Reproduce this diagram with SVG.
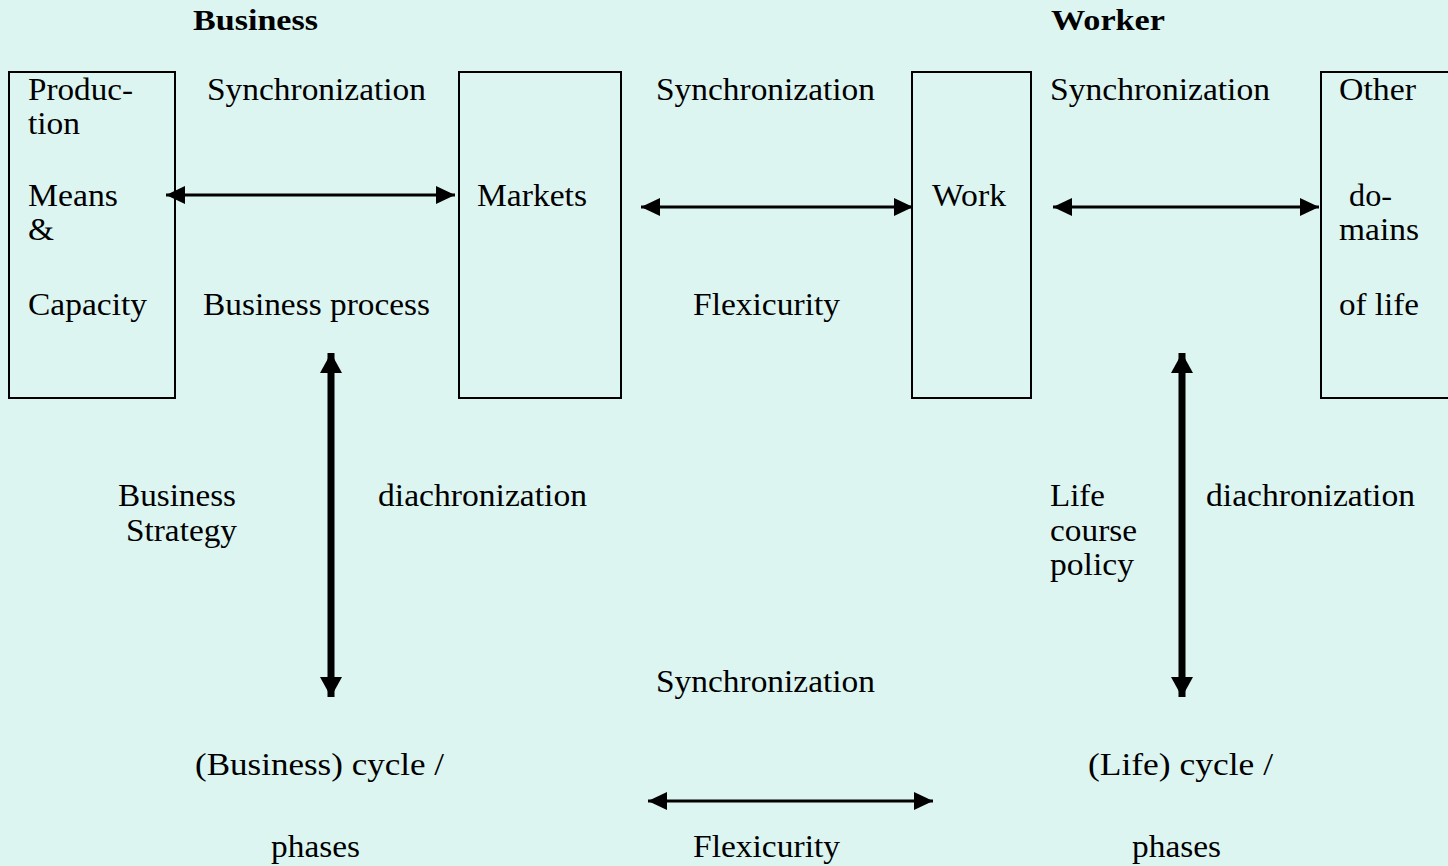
<svg xmlns="http://www.w3.org/2000/svg" width="1448" height="866" viewBox="0 0 1448 866" font-family="Liberation Serif">
<style>
text{font-family:'Liberation Serif','Times New Roman',serif;font-size:32px;fill:#000}
.b{font-weight:bold;font-size:29px}
.box{fill:none;stroke:#000;stroke-width:2}
.h{stroke:#000;stroke-width:3;fill:none}
.v{stroke:#000;stroke-width:7;fill:none}
</style>
<defs>
<marker id="ah" viewBox="0 0 19 18" refX="19" refY="9" markerWidth="19" markerHeight="18" markerUnits="userSpaceOnUse" orient="auto-start-reverse"><path d="M0,0L19,9L0,18z" fill="#000"/></marker>
<marker id="av" viewBox="0 0 20 22" refX="20" refY="11" markerWidth="20" markerHeight="22" markerUnits="userSpaceOnUse" orient="auto-start-reverse"><path d="M0,0L20,11L0,22z" fill="#000"/></marker>
</defs>
<rect width="1448" height="866" fill="#ddf5f1"/>
<g id="headers">
<text class="b" x="193" y="30" textLength="125" lengthAdjust="spacingAndGlyphs">Business</text>
<text class="b" x="1051" y="30" textLength="114" lengthAdjust="spacingAndGlyphs">Worker</text>
</g>
<g id="node-production">
<rect class="box" x="9" y="72" width="166" height="326"/>
<text x="28" y="100" textLength="105" lengthAdjust="spacingAndGlyphs">Produc-</text>
<text x="28" y="134" textLength="52" lengthAdjust="spacingAndGlyphs">tion</text>
<text x="28" y="206" textLength="90" lengthAdjust="spacingAndGlyphs">Means</text>
<text x="28" y="240" textLength="26" lengthAdjust="spacingAndGlyphs">&amp;</text>
<text x="28" y="315" textLength="119" lengthAdjust="spacingAndGlyphs">Capacity</text>
</g>
<g id="node-markets">
<rect class="box" x="459" y="72" width="162" height="326"/>
<text x="477" y="206" textLength="110" lengthAdjust="spacingAndGlyphs">Markets</text>
</g>
<g id="node-work">
<rect class="box" x="912" y="72" width="119" height="326"/>
<text x="932" y="206" textLength="74" lengthAdjust="spacingAndGlyphs">Work</text>
</g>
<g id="node-other">
<rect class="box" x="1321" y="72" width="140" height="326"/>
<text x="1339" y="100" textLength="77" lengthAdjust="spacingAndGlyphs">Other</text>
<text x="1349" y="206" textLength="43" lengthAdjust="spacingAndGlyphs">do-</text>
<text x="1339" y="240" textLength="80" lengthAdjust="spacingAndGlyphs">mains</text>
<text x="1339" y="315" textLength="80" lengthAdjust="spacingAndGlyphs">of life</text>
</g>
<g id="labels">
<text x="207" y="100" textLength="219" lengthAdjust="spacingAndGlyphs">Synchronization</text>
<text x="656" y="100" textLength="219" lengthAdjust="spacingAndGlyphs">Synchronization</text>
<text x="1050" y="100" textLength="220" lengthAdjust="spacingAndGlyphs">Synchronization</text>
<text x="203" y="315" textLength="227" lengthAdjust="spacingAndGlyphs">Business process</text>
<text x="693" y="315" textLength="147" lengthAdjust="spacingAndGlyphs">Flexicurity</text>
<text x="118" y="506" textLength="118" lengthAdjust="spacingAndGlyphs">Business</text>
<text x="126" y="541" textLength="111" lengthAdjust="spacingAndGlyphs">Strategy</text>
<text x="378" y="506" textLength="209" lengthAdjust="spacingAndGlyphs">diachronization</text>
<text x="1050" y="506" textLength="55" lengthAdjust="spacingAndGlyphs">Life</text>
<text x="1050" y="541" textLength="87" lengthAdjust="spacingAndGlyphs">course</text>
<text x="1050" y="575" textLength="84" lengthAdjust="spacingAndGlyphs">policy</text>
<text x="1206" y="506" textLength="209" lengthAdjust="spacingAndGlyphs">diachronization</text>
<text x="656" y="692" textLength="219" lengthAdjust="spacingAndGlyphs">Synchronization</text>
<text x="195" y="775" textLength="249" lengthAdjust="spacingAndGlyphs">(Business) cycle /</text>
<text x="1088" y="775" textLength="185" lengthAdjust="spacingAndGlyphs">(Life) cycle /</text>
<text x="271" y="857" textLength="89" lengthAdjust="spacingAndGlyphs">phases</text>
<text x="693" y="857" textLength="147" lengthAdjust="spacingAndGlyphs">Flexicurity</text>
<text x="1132" y="857" textLength="89" lengthAdjust="spacingAndGlyphs">phases</text>
</g>
<g id="connectors">
<line class="h" x1="166" y1="195" x2="455" y2="195" marker-start="url(#ah)" marker-end="url(#ah)"/>
<line class="h" x1="641" y1="207" x2="913" y2="207" marker-start="url(#ah)" marker-end="url(#ah)"/>
<line class="h" x1="1053" y1="207" x2="1319" y2="207" marker-start="url(#ah)" marker-end="url(#ah)"/>
<line class="h" x1="648" y1="801" x2="933" y2="801" marker-start="url(#ah)" marker-end="url(#ah)"/>
<line class="v" x1="331" y1="353" x2="331" y2="697" marker-start="url(#av)" marker-end="url(#av)"/>
<line class="v" x1="1182" y1="353" x2="1182" y2="697" marker-start="url(#av)" marker-end="url(#av)"/>
</g>
</svg>
